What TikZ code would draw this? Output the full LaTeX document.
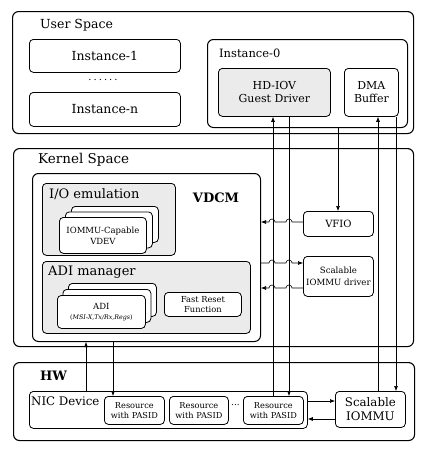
\documentclass[tikz,border=0pt]{standalone}
\usepackage{fontspec}
\setmainfont{DejaVu Serif}
\usetikzlibrary{arrows.meta,calc}
\definecolor{panel}{HTML}{EBEBEB}
\begin{document}
\begin{tikzpicture}[x=1pt,y=-1pt,
  outer/.style={draw,line width=1.1pt,rounded corners=6pt,fill=white},
  box/.style={draw,line width=0.8pt,rounded corners=4pt,fill=white,inner sep=0pt,align=center},
  gbox/.style={box,fill=panel},
  lbl/.style={anchor=west,inner sep=0pt},
  arr/.style={-{Latex[length=5pt,width=4pt]},line width=0.6pt},
  ln/.style={line width=0.6pt}]
\useasboundingbox (0,0) rectangle (425,455);
% ---------- User space
\node[outer,minimum width=401pt,minimum height=122pt,anchor=north west] (user) at (12,11) {};
\node[lbl,font=\fontsize{12.5}{14}\selectfont] (userl) at (40,25) {User Space};
\node[box,minimum width=151pt,minimum height=33pt,anchor=north west,font=\fontsize{12.5}{14}\selectfont] (inst1) at (29,39) {Instance-1};
\node[inner sep=0pt,font=\fontsize{10}{10}\selectfont] (dots) at (103,80) {.\kern2pt.\kern2pt.\kern2pt.\kern2pt.\kern2pt.};
\node[box,minimum width=151pt,minimum height=34pt,anchor=north west,font=\fontsize{12.5}{14}\selectfont] (instn) at (29,92) {Instance-n};
\node[box,line width=1pt,rounded corners=6pt,minimum width=200pt,minimum height=88pt,anchor=north west] (inst0) at (207,39) {};
\node[lbl,font=\fontsize{11.5}{13}\selectfont] (inst0l) at (219,53) {Instance-0};
\node[gbox,minimum width=112pt,minimum height=48pt,anchor=north west,font=\fontsize{11}{13}\selectfont] (hd) at (218,68) {HD-IOV\\Guest Driver};
\node[box,minimum width=54pt,minimum height=48pt,anchor=north west,font=\fontsize{11}{13}\selectfont] (dma) at (344,68) {DMA\\Buffer};
% ---------- Kernel space
\node[outer,minimum width=400pt,minimum height=198pt,anchor=north west] (kern) at (13,148) {};
\node[lbl,font=\fontsize{13.5}{15}\selectfont] (kernl) at (38,160) {Kernel Space};
\node[box,line width=1pt,rounded corners=6pt,minimum width=228pt,minimum height=168pt,anchor=north west] (vdcm) at (32,173) {};
\node[inner sep=0pt,font=\bfseries\fontsize{13}{15}\selectfont] (vdcml) at (216,198) {VDCM};
\node[gbox,minimum width=133pt,minimum height=72pt,anchor=north west] (io) at (42,183) {};
\node[lbl,font=\fontsize{13}{15}\selectfont] (iol) at (49,194) {I/O emulation};
\node[box,minimum width=87pt,minimum height=36pt,anchor=north west] (vdev3) at (71,206) {};
\node[box,minimum width=87pt,minimum height=36pt,anchor=north west] (vdev2) at (65,211.5) {};
\node[box,minimum width=87pt,minimum height=36pt,anchor=north west,font=\fontsize{8.5}{11}\selectfont] (vdev) at (59,217) {IOMMU-Capable\\VDEV};
\node[gbox,minimum width=208pt,minimum height=72pt,anchor=north west] (adim) at (42,261) {};
\node[lbl,font=\fontsize{13}{15}\selectfont] (adiml) at (48,272) {ADI manager};
\node[box,minimum width=88pt,minimum height=33pt,anchor=north west] (adi3) at (68,283) {};
\node[box,minimum width=88pt,minimum height=33pt,anchor=north west] (adi2) at (62.5,289) {};
\node[box,minimum width=88pt,minimum height=33pt,anchor=north west,font=\fontsize{8.5}{11}\selectfont] (adi) at (57,295) {ADI\\[-1pt]{\fontsize{6.3}{8}\selectfont(\textit{MSI-X,Tx/Rx,Regs})}};
\node[box,minimum width=77pt,minimum height=24pt,anchor=north west,font=\fontsize{8.3}{10.5}\selectfont] (fast) at (164,292) {Fast Reset\\Function};
\node[box,minimum width=70pt,minimum height=25pt,anchor=north west,font=\fontsize{10}{12}\selectfont] (vfio) at (303,211) {VFIO};
\node[box,minimum width=70pt,minimum height=40pt,anchor=north west,font=\fontsize{8.6}{11.5}\selectfont] (sid) at (303,256) {Scalable\\IOMMU driver};
% ---------- HW
\node[outer,minimum width=401pt,minimum height=78pt,anchor=north west] (hw) at (13,362) {};
\node[lbl,font=\bfseries\fontsize{13}{15}\selectfont] (hwl) at (40,376) {HW};
\node[box,minimum width=278pt,minimum height=37pt,anchor=north west] (nic) at (29,391) {};
\node[lbl,font=\fontsize{11.8}{14}\selectfont] (nicl) at (31,401) {NIC Device};
\node[box,minimum width=60pt,minimum height=28pt,anchor=north west,font=\fontsize{8.2}{10.5}\selectfont] (r1) at (104,396) {Resource\\with PASID};
\node[box,minimum width=59pt,minimum height=28pt,anchor=north west,font=\fontsize{8.2}{10.5}\selectfont] (r2) at (169,396) {Resource\\with PASID};
\node[inner sep=0pt,font=\fontsize{9}{9}\selectfont] (rdots) at (235.5,405) {...};
\node[box,minimum width=60pt,minimum height=28pt,anchor=north west,font=\fontsize{8.2}{10.5}\selectfont] (r3) at (243,396) {Resource\\with PASID};
\node[box,minimum width=70pt,minimum height=36pt,anchor=north west,font=\fontsize{11.8}{14}\selectfont] (siommu) at (335,391) {Scalable\\IOMMU};
% ---------- connectors
\draw[arr] (r3.north -| 273,0) -- (hd.south -| 273,0);
\draw[arr] (hd.south -| 289,0) -- (r3.north -| 289,0);
\draw[arr] (inst0.south -| 338,0) -- (vfio.north -| 338,0);
\draw[arr] (siommu.north -| 378,0) -- (dma.south -| 378,0);
\draw[arr] (dma.south -| 396,0) -- (siommu.north -| 396,0);
\draw[arr] (nic.north -| 86,0) -- (vdcm.south -| 86,0);
\draw[arr] (vdcm.south -| 113,0) -- (r1.north -| 113,0);
\draw[arr] (nic.east |- 0,401) -- (siommu.west |- 0,401);
\draw[arr] (siommu.west |- 0,419) -- (nic.east |- 0,419);
% hopping connectors
\draw[arr] (vfio.west |- 0,222) -- (292,222) arc (0:-180:3) -- (275,222) arc (0:-180:3) -- (vdcm.east |- 0,222);
\draw[arr] (vdcm.east |- 0,263) -- (269,263) arc (180:360:3) -- (286,263) arc (180:360:3) -- (sid.west |- 0,263);
\draw[arr] (sid.west |- 0,288) -- (292,288) arc (0:-180:3) -- (275,288) arc (0:-180:3) -- (vdcm.east |- 0,288);
\end{tikzpicture}
\end{document}
